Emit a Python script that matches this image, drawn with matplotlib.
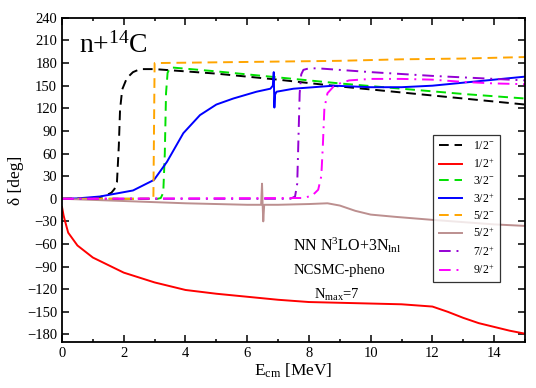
import matplotlib
matplotlib.use("Agg")
import matplotlib.pyplot as plt
from matplotlib.ticker import MultipleLocator

plt.rcParams['font.family'] = ['Liberation Serif', 'DejaVu Serif']
plt.rcParams['mathtext.fontset'] = 'custom'
plt.rcParams['mathtext.rm'] = 'Liberation Serif'
plt.rcParams['mathtext.it'] = 'Liberation Serif:italic'

# phase shifts (E_cm in MeV, delta in deg)
e_12m = [0, 0.8, 1.2, 1.4, 1.6, 1.7, 1.78, 1.84, 1.88, 1.95, 2.1, 2.3, 2.53, 3.0, 5.0, 7.0, 9.0, 11.0, 13.0, 15.0]
d_12m = [0, 0.5, 2, 4, 8, 13, 22, 70, 118, 145, 160, 168, 172, 172, 166, 158, 149, 141, 133, 125]

e_12p = [0, 0.05, 0.1, 0.2, 0.5, 1, 2, 3, 4, 5, 6, 7, 8, 9, 10, 11, 12, 12.5, 13, 13.5, 14, 14.5, 15]
d_12p = [-11, -22, -30, -45, -62, -78, -98, -111, -121, -126, -130, -134, -137, -138, -139, -140, -143, -150, -158, -165, -170, -175, -179]

e_32m = [0, 3.1, 3.2, 3.28, 3.33, 3.37, 3.42, 3.5, 3.6, 5, 7, 9, 11, 13, 15]
d_32m = [0, 0, 1, 8, 60, 140, 167, 174, 174, 169, 161, 153, 146, 139, 133]

e_32p = [0, 0.5, 1.23, 2.3, 2.98, 3.4, 3.93, 4.47, 5.0, 5.55, 6.3, 6.75, 6.83, 6.86, 6.88, 6.9, 6.95, 7.5, 8.8, 10, 11, 12, 13, 14, 15]
d_32p = [0, 0.5, 3, 11, 25, 49, 87, 111, 125, 133, 142, 146, 150, 168, 121, 138, 142, 146, 150, 148, 148, 150, 154, 158, 162]

e_52m = [0, 2.96, 2.98, 3.0, 5, 7, 9, 11, 13, 15]
d_52m = [0, 0, 90, 180, 181, 182, 183, 185, 186, 188]

e_52p = [0, 2, 4, 5, 6, 6.45, 6.48, 6.5, 6.52, 6.55, 7, 8, 8.6, 9, 9.5, 10, 10.8, 12, 13, 14, 15]
d_52p = [0, -3, -6, -7, -8, -8, 20, -8, -30, -8, -8, -7, -6, -9, -16, -21, -24, -28, -31, -34, -36]

e_72p = [0, 7.4, 7.55, 7.62, 7.66, 7.7, 7.75, 7.82, 8.0, 8.3, 10, 12, 13.5, 15]
d_72p = [0, 0, 3, 20, 80, 140, 165, 171, 173, 173, 168, 163, 160, 157]

e_92p = [0, 7.8, 8.1, 8.3, 8.4, 8.45, 8.5, 8.6, 8.8, 9.0, 9.3, 10, 11, 12, 13, 14, 15]
d_92p = [0, 1, 4, 12, 30, 70, 120, 140, 149, 153, 157, 159, 159, 158, 155, 153, 152]

fig = plt.figure(figsize=(5.36, 3.88), dpi=100)
ax = fig.add_axes([0.1157, 0.1186, 0.9795 - 0.1157, 0.954 - 0.1186])

lw = 1.4
dash = (0, (5, 3))
dashdot = (0, (6, 3, 1, 3))
ax.plot(e_12m, d_12m, color='black', ls=dash, lw=lw, label=r'1/2$^{-}$')
ax.plot(e_12p, d_12p, color='red', ls='-', lw=lw, label=r'1/2$^{+}$')
ax.plot(e_32m, d_32m, color='#00e000', ls=dash, lw=lw, label=r'3/2$^{-}$')
ax.plot(e_32p, d_32p, color='blue', ls='-', lw=lw, label=r'3/2$^{+}$')
ax.plot(e_52m, d_52m, color='#ffa500', ls=dash, lw=lw, label=r'5/2$^{-}$')
ax.plot(e_52p, d_52p, color='#bc8f8f', ls='-', lw=lw, label=r'5/2$^{+}$')
ax.plot(e_72p, d_72p, color='#9400d3', ls=dashdot, lw=lw, label=r'7/2$^{+}$')
ax.plot(e_92p, d_92p, color='#ff00ff', ls=dashdot, lw=lw, label=r'9/2$^{+}$')

ax.set_xlim(0, 15)
ax.set_ylim(-190, 240)
ax.xaxis.set_major_locator(MultipleLocator(2))
ax.xaxis.set_minor_locator(MultipleLocator(1))
ax.yaxis.set_major_locator(MultipleLocator(30))
ax.tick_params(which='both', direction='in', top=True, right=True, labelsize=10.5)
ax.tick_params(which='major', length=5, width=1.1)
ax.tick_params(which='minor', length=2.5, width=1.1)
for s in ax.spines.values():
    s.set_linewidth(1.3)

ax.set_xlabel(r'E$_{\rm cm}$ [MeV]', fontsize=12.5, labelpad=1)
ax.set_ylabel(r'δ [deg]', fontsize=12.5, labelpad=2)

ax.text(0.55, 204, r'n+$^{14}$C', fontsize=20, va='center', ha='left')
ax.text(9.23, -61, r'NN N$^3$LO+3N$_{\rm lnl}$', fontsize=11.5, ha='center', va='center')
ax.text(9.0, -95, 'NCSMC-pheno', fontsize=10.5, ha='center', va='center')
ax.text(8.9, -127, r'N$_{\rm max}$=7', fontsize=10.5, ha='center', va='center')

leg = ax.legend(loc='upper left', bbox_to_anchor=(0.802, 0.638), fontsize=8.5,
                frameon=True, fancybox=False, edgecolor='black',
                handlelength=2.0, handletextpad=0.9, labelspacing=0.38,
                borderpad=0.45, borderaxespad=0)
leg.get_frame().set_linewidth(0.9)

fig.savefig('out.png', dpi=100)
